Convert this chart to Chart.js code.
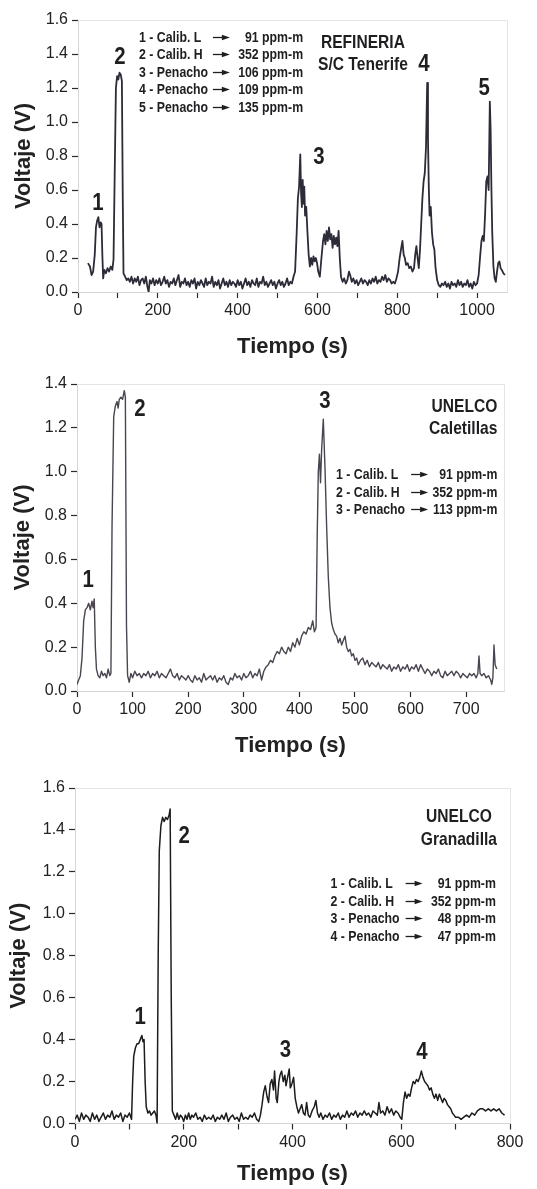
<!DOCTYPE html>
<html>
<head>
<meta charset="utf-8">
<script src="https://cdn.jsdelivr.net/npm/chart.js@4.4.1/dist/chart.umd.min.js"></script>
<style>
html,body{margin:0;padding:0;background:#fff;}
body{width:537px;height:1189px;position:relative;overflow:hidden;}
.box{position:absolute;left:0;width:537px;}
canvas{display:block;}
</style>
</head>
<body>
<div class="box" style="top:0;height:365px"><canvas id="c1" width="537" height="365"></canvas></div>
<div class="box" style="top:365px;height:400px"><canvas id="c2" width="537" height="400"></canvas></div>
<div class="box" style="top:765px;height:424px"><canvas id="c3" width="537" height="424"></canvas></div>
<script>
// ---------------- DATA ----------------
// Chart 1: REFINERIA S/C Tenerife
const c1Time = [25,30,34,38,42,45,48,51,54,57,59,61,63,66,70,74,78,82,86,89,92,95,98,101,104,107,110,112,114,118,122,126,130,134,138,142,146,150,154,158,162,166,170,174,177,180,184,188,192,196,200,204,208,212,216,220,224,228,232,236,240,244,248,252,256,260,264,268,272,276,280,284,288,292,296,300,304,308,312,316,320,324,328,332,336,340,344,348,352,356,360,364,368,372,376,380,384,388,392,396,400,404,408,412,416,420,424,428,432,436,440,444,448,452,456,460,464,468,472,476,480,484,488,492,496,500,504,508,512,516,520,524,528,532,536,540,544,548,551,554,557,559,561,563,565,567,569,572,575,578,581,584,587,590,593,596,599,602,606,610,614,617,620,623,626,629,632,635,638,641,644,647,650,653,656,659,663,667,671,675,679,682,686,690,694,698,702,706,710,714,718,722,726,730,734,738,742,746,750,754,758,762,766,770,774,778,782,786,790,794,798,802,806,810,813,816,819,822,826,830,834,838,842,845,848,851,854,857,860,863,866,869,872,875,877,879,881,884,887,890,893,896,900,904,908,912,916,920,924,928,932,936,940,944,948,952,956,960,964,968,972,976,980,984,988,992,996,1000,1004,1008,1011,1014,1017,1020,1023,1026,1029,1032,1034,1036,1038,1041,1044,1047,1050,1053,1056,1059,1062,1066,1070];
const c1Volt = [0.17,0.15,0.10,0.12,0.22,0.38,0.42,0.44,0.38,0.41,0.40,0.22,0.08,0.13,0.11,0.14,0.12,0.15,0.13,0.19,0.70,1.20,1.27,1.25,1.29,1.28,1.24,0.60,0.11,0.09,0.07,0.08,0.06,0.09,0.05,0.08,0.06,0.09,0.04,0.07,0.08,0.05,0.09,0.03,0.00,0.07,0.05,0.08,0.04,0.07,0.05,0.08,0.04,0.06,0.09,0.05,0.07,0.03,0.06,0.05,0.08,0.04,0.07,0.10,0.03,0.06,0.05,0.08,0.04,0.06,0.03,0.07,0.05,0.08,0.02,0.06,0.04,0.07,0.05,0.03,0.08,0.04,0.06,0.05,0.09,0.03,0.06,0.04,0.07,0.02,0.05,0.08,0.04,0.06,0.03,0.07,0.04,0.06,0.05,0.03,0.07,0.04,0.06,0.02,0.05,0.08,0.04,0.06,0.03,0.07,0.05,0.04,0.08,0.03,0.06,0.05,0.09,0.04,0.06,0.03,0.05,0.07,0.04,0.06,0.02,0.05,0.07,0.04,0.06,0.03,0.05,0.08,0.04,0.06,0.05,0.09,0.12,0.35,0.55,0.62,0.81,0.58,0.50,0.66,0.52,0.62,0.45,0.50,0.35,0.22,0.15,0.20,0.16,0.21,0.18,0.20,0.17,0.12,0.09,0.20,0.30,0.34,0.28,0.36,0.30,0.38,0.31,0.34,0.26,0.33,0.28,0.32,0.27,0.36,0.20,0.09,0.06,0.08,0.05,0.07,0.12,0.10,0.06,0.08,0.05,0.07,0.04,0.06,0.08,0.05,0.07,0.06,0.04,0.07,0.05,0.08,0.06,0.09,0.05,0.07,0.06,0.09,0.07,0.10,0.06,0.08,0.07,0.05,0.06,0.05,0.08,0.12,0.20,0.26,0.30,0.22,0.20,0.16,0.17,0.14,0.15,0.12,0.14,0.22,0.27,0.20,0.14,0.25,0.40,0.55,0.65,0.70,0.85,1.23,0.90,0.62,0.45,0.50,0.35,0.28,0.25,0.14,0.07,0.04,0.03,0.05,0.04,0.06,0.03,0.05,0.02,0.06,0.04,0.05,0.03,0.07,0.04,0.06,0.03,0.05,0.04,0.07,0.03,0.05,0.02,0.06,0.04,0.05,0.10,0.22,0.30,0.33,0.30,0.45,0.65,0.68,0.60,1.12,0.95,0.60,0.35,0.15,0.08,0.06,0.12,0.17,0.18,0.14,0.13,0.11,0.10];
const c1Peaks = ['1','2','3','4','5'];
const c1PeakTime = [50,105,604,867,1018];
const c1PeakVolt = [0.52,1.38,0.79,1.34,1.20];
const c1Site = ['REFINERIA','S/C Tenerife'];
const c1LegendLabels = ['1 - Calib. L','2 - Calib. H','3 - Penacho','4 - Penacho','5 - Penacho'];
const c1LegendValues = ['91 ppm-m','352 ppm-m','106 ppm-m','109 ppm-m','135 ppm-m'];

// Chart 2: UNELCO Caletillas
const c2Time = [0,3,6,9,12,15,18,21,24,27,29,31,33,35,38,41,44,47,50,53,56,59,61,63,66,69,72,74,76,79,82,85,87,89,91,94,97,100,104,108,112,116,120,124,128,132,136,140,144,148,152,156,160,164,168,172,176,180,184,188,192,196,200,204,208,212,216,220,224,228,232,236,240,244,248,252,256,260,264,268,272,276,280,284,288,292,296,300,304,308,312,316,320,324,328,332,336,340,344,348,352,356,360,364,368,372,376,380,384,388,392,396,400,404,408,412,416,420,424,427,430,432,434,436,438,440,443,446,449,452,455,458,461,464,467,470,473,476,479,482,485,488,491,494,497,500,503,506,510,514,518,522,526,530,534,538,542,546,550,554,558,562,566,570,574,578,582,586,590,594,598,602,606,610,614,618,622,626,630,634,638,642,646,650,654,658,662,666,670,674,678,682,686,690,694,698,702,706,710,714,718,721,723,725,728,732,736,740,744,746,748,750,752,755];
const c2Volt = [0.03,0.05,0.07,0.15,0.32,0.37,0.38,0.40,0.37,0.41,0.38,0.42,0.20,0.10,0.07,0.06,0.09,0.07,0.08,0.06,0.10,0.07,0.08,0.75,1.25,1.30,1.32,1.29,1.33,1.34,1.33,1.37,1.34,0.30,0.07,0.04,0.08,0.06,0.09,0.07,0.08,0.06,0.08,0.07,0.09,0.06,0.08,0.07,0.09,0.06,0.08,0.07,0.06,0.08,0.10,0.07,0.06,0.08,0.05,0.07,0.06,0.05,0.07,0.05,0.04,0.07,0.05,0.06,0.04,0.08,0.05,0.06,0.07,0.05,0.07,0.04,0.06,0.05,0.07,0.04,0.03,0.06,0.05,0.08,0.06,0.07,0.05,0.08,0.06,0.07,0.09,0.06,0.08,0.07,0.10,0.05,0.09,0.11,0.12,0.14,0.13,0.16,0.18,0.17,0.20,0.18,0.17,0.20,0.18,0.22,0.20,0.24,0.21,0.25,0.27,0.26,0.29,0.28,0.32,0.27,0.29,0.70,1.00,1.08,0.95,1.10,1.24,1.02,0.75,0.52,0.38,0.31,0.28,0.26,0.25,0.22,0.24,0.21,0.23,0.25,0.20,0.18,0.19,0.16,0.17,0.14,0.15,0.12,0.14,0.15,0.12,0.14,0.11,0.13,0.12,0.11,0.13,0.10,0.12,0.11,0.10,0.12,0.09,0.11,0.10,0.12,0.09,0.11,0.10,0.12,0.09,0.11,0.10,0.12,0.09,0.12,0.10,0.08,0.10,0.09,0.07,0.09,0.08,0.10,0.07,0.06,0.09,0.07,0.08,0.09,0.07,0.09,0.08,0.06,0.08,0.07,0.06,0.08,0.07,0.08,0.06,0.08,0.16,0.08,0.07,0.08,0.06,0.07,0.05,0.03,0.06,0.21,0.12,0.10];
const c2Peaks = ['1','2','3'];
const c2PeakTime = [20,113,446];
const c2PeakVolt = [0.506,1.286,1.322];
const c2Site = ['UNELCO','Caletillas'];
const c2LegendLabels = ['1 - Calib. L','2 - Calib. H','3 - Penacho'];
const c2LegendValues = ['91 ppm-m','352 ppm-m','113 ppm-m'];

// Chart 3: UNELCO Granadilla
const c3Time = [0,4,8,12,16,20,24,28,32,36,40,44,48,52,56,60,64,68,72,76,80,84,88,92,96,100,104,106,108,111,114,117,120,123,125,127,129,131,134,137,140,143,146,149,151,153,155,158,161,164,167,170,173,175,177,179,182,185,188,191,194,197,200,203,206,209,212,215,218,222,226,230,234,238,242,246,250,254,258,262,266,270,274,278,282,286,290,294,298,302,306,310,314,318,322,326,330,334,338,341,344,347,350,353,356,359,362,365,367,370,372,375,377,380,383,386,388,391,394,396,399,402,405,408,411,414,417,420,423,426,429,432,436,440,443,446,449,452,456,460,464,468,472,476,480,484,488,492,496,500,504,508,512,516,520,524,528,532,536,540,544,548,552,556,559,562,566,570,574,578,582,586,590,594,598,601,604,607,610,613,616,619,622,625,628,631,634,637,640,643,646,649,652,655,658,661,664,667,670,673,676,679,682,685,688,691,694,697,700,705,710,715,720,725,730,735,740,745,750,755,760,765,770,775,780,785,790];
const c3Volt = [0.02,0.04,0.01,0.05,0.02,0.04,0.03,0.01,0.05,0.02,0.04,0.01,0.03,0.05,0.02,0.04,0.03,0.06,0.02,0.04,0.03,0.05,0.01,0.04,0.03,0.05,0.02,0.20,0.32,0.36,0.38,0.38,0.40,0.42,0.39,0.40,0.20,0.08,0.05,0.06,0.04,0.05,0.06,0.04,0.00,0.80,1.30,1.42,1.46,1.44,1.46,1.45,1.47,1.50,0.60,0.06,0.04,0.02,0.05,0.02,0.04,0.03,0.01,0.04,0.02,0.05,0.02,0.04,0.03,0.05,0.02,0.03,0.01,0.04,0.02,0.03,0.02,0.04,0.01,0.03,0.02,0.04,0.02,0.05,0.01,0.03,0.04,0.02,0.03,0.01,0.05,0.02,0.03,0.02,0.04,0.03,0.05,0.02,0.01,0.04,0.09,0.15,0.18,0.13,0.10,0.19,0.21,0.16,0.25,0.12,0.10,0.20,0.23,0.25,0.20,0.23,0.18,0.22,0.26,0.17,0.19,0.22,0.12,0.08,0.05,0.07,0.09,0.05,0.04,0.10,0.04,0.03,0.06,0.08,0.11,0.05,0.03,0.05,0.02,0.04,0.03,0.05,0.02,0.04,0.03,0.05,0.02,0.04,0.03,0.06,0.03,0.05,0.04,0.06,0.03,0.05,0.04,0.06,0.04,0.05,0.03,0.06,0.05,0.04,0.10,0.05,0.06,0.04,0.08,0.05,0.07,0.04,0.06,0.05,0.03,0.02,0.10,0.15,0.12,0.14,0.13,0.17,0.20,0.19,0.21,0.20,0.22,0.25,0.22,0.20,0.19,0.18,0.16,0.17,0.14,0.12,0.14,0.11,0.14,0.12,0.10,0.12,0.11,0.09,0.08,0.07,0.05,0.04,0.03,0.03,0.02,0.03,0.04,0.03,0.05,0.04,0.06,0.07,0.07,0.06,0.07,0.06,0.07,0.06,0.07,0.05,0.04];
const c3Peaks = ['1','2','3','4'];
const c3PeakTime = [120,201,387,638];
const c3PeakVolt = [0.505,1.371,0.348,0.338];
const c3Site = ['UNELCO','Granadilla'];
const c3LegendLabels = ['1 - Calib. L','2 - Calib. H','3 - Penacho','4 - Penacho'];
const c3LegendValues = ['91 ppm-m','352 ppm-m','48 ppm-m','47 ppm-m'];

// ---------------- RENDERING ----------------
const SANS = "'Liberation Sans',Arial,sans-serif";
const INK = '#1f1f22';

// draw horizontally condensed text (emulates a narrow typeface)
function narrowText(ctx, s, x, y, align, sx) {
  ctx.save();
  ctx.translate(x, y);
  ctx.scale(sx, 1);
  ctx.textAlign = align;
  ctx.fillText(s, 0, 0);
  ctx.restore();
}

function makeAnnot(a) {
  return {
    id: 'annot',
    afterDatasetsDraw(chart) {
      const {ctx, chartArea: ar} = chart;
      const x = chart.scales.x, y = chart.scales.y;
      ctx.save();
      // light frame on top and right
      ctx.strokeStyle = '#e4e4e4';
      ctx.lineWidth = 1;
      ctx.beginPath();
      ctx.moveTo(ar.left, Math.round(ar.top) + 0.5);
      ctx.lineTo(Math.round(ar.right) + 0.5, Math.round(ar.top) + 0.5);
      ctx.lineTo(Math.round(ar.right) + 0.5, ar.bottom);
      ctx.stroke();
      ctx.fillStyle = INK;
      ctx.strokeStyle = INK;
      ctx.textBaseline = 'middle';
      // peak numbers
      ctx.font = 'bold 24px ' + SANS;
      a.peaks.forEach((s, i) => narrowText(ctx, s, x.getPixelForValue(a.peakT[i]), y.getPixelForValue(a.peakV[i]), 'center', 0.85));
      // site name
      ctx.font = 'bold 19px ' + SANS;
      a.site.forEach((s, i) => narrowText(ctx, s, x.getPixelForValue(a.siteT), y.getPixelForValue(a.siteV[i]), a.siteAlign, 0.82));
      // legend rows
      ctx.font = 'bold 15px ' + SANS;
      a.labels.forEach((s, i) => {
        const py = Math.round(y.getPixelForValue(a.legV[i])) + 0.5;
        narrowText(ctx, s, x.getPixelForValue(a.legLeft), py, 'left', 0.82);
        const ax = x.getPixelForValue(a.legArrow);
        ctx.lineWidth = 1.3;
        ctx.beginPath(); ctx.moveTo(ax, py); ctx.lineTo(ax + 11, py); ctx.stroke();
        ctx.beginPath(); ctx.moveTo(ax + 17, py); ctx.lineTo(ax + 9, py - 2.8); ctx.lineTo(ax + 9, py + 2.8); ctx.closePath(); ctx.fill();
        narrowText(ctx, a.values[i], x.getPixelForValue(a.legRight), py, 'right', 0.82);
      });
      ctx.restore();
    }
  };
}

function build(id, cfg) {
  const data = cfg.t.map((t, i) => ({x: t, y: cfg.v[i]}));
  new Chart(document.getElementById(id), {
    type: 'line',
    data: {datasets: [{data, borderColor: cfg.color, borderWidth: cfg.lw, pointRadius: 0, tension: 0, fill: false, borderJoinStyle: 'round'}]},
    options: {
      responsive: false,
      animation: false,
      events: [],
      layout: {padding: {top: cfg.padTop, right: cfg.padRight, bottom: 0, left: 0}},
      plugins: {legend: {display: false}, tooltip: {enabled: false}},
      scales: {
        x: {
          type: 'linear', min: 0, max: cfg.xMax,
          afterFit: s => { s.height = cfg.xH; },
          grid: {drawOnChartArea: false, drawTicks: true, tickLength: 6, tickColor: '#2a2a2a', tickWidth: 1.2},
          border: {display: true, color: '#d6d6d6', width: 1},
          ticks: {
            stepSize: 100, autoSkip: false, includeBounds: false, maxRotation: 0, padding: 3,
            color: '#222', font: {family: SANS, size: 16},
            callback: v => (v % cfg.labelEvery === 0 ? String(v) : '')
          },
          title: {display: true, text: 'Tiempo (s)', color: '#222', font: {family: SANS, size: 22, weight: 'bold'}, padding: {top: 0, bottom: cfg.xTitlePad}}
        },
        y: {
          min: 0, max: cfg.yMax,
          afterFit: s => { s.width = cfg.yW; },
          grid: {drawOnChartArea: false, drawTicks: true, tickLength: 6, tickColor: '#2a2a2a', tickWidth: 1.2},
          border: {display: true, color: '#d6d6d6', width: 1},
          ticks: {stepSize: 0.2, padding: 4, color: '#222', font: {family: SANS, size: 16}, callback: v => Number(v).toFixed(1)},
          title: {display: true, text: 'Voltaje (V)', color: '#222', font: {family: SANS, size: 22, weight: 'bold'}, padding: {top: cfg.yTitlePad, bottom: 0}}
        }
      }
    },
    plugins: [makeAnnot(cfg.annot)]
  });
}

build('c1', {
  t: c1Time, v: c1Volt, color: '#2c2b38', lw: 1.8,
  xMax: 1075, yMax: 1.6, labelEvery: 200,
  padTop: 20, padRight: 30, xH: 73, yW: 78, xTitlePad: 5, yTitlePad: 11,
  annot: {
    peaks: c1Peaks, peakT: c1PeakTime, peakV: c1PeakVolt,
    site: c1Site, siteT: 714, siteV: [1.465, 1.335], siteAlign: 'center',
    labels: c1LegendLabels, values: c1LegendValues,
    legLeft: 153, legArrow: 338, legRight: 564, legV: [1.50, 1.40, 1.294, 1.194, 1.088]
  }
});

build('c2', {
  t: c2Time, v: c2Volt, color: '#4a4550', lw: 1.4,
  xMax: 768, yMax: 1.4, labelEvery: 100,
  padTop: 19, padRight: 33, xH: 74, yW: 77, xTitlePad: 6, yTitlePad: 10,
  annot: {
    peaks: c2Peaks, peakT: c2PeakTime, peakV: c2PeakVolt,
    site: c2Site, siteT: 756, siteV: [1.295, 1.195], siteAlign: 'right',
    labels: c2LegendLabels, values: c2LegendValues,
    legLeft: 466, legArrow: 601, legRight: 756, legV: [0.99, 0.907, 0.83]
  }
});

build('c3', {
  t: c3Time, v: c3Volt, color: '#1c1c1c', lw: 1.5,
  xMax: 800, yMax: 1.6, labelEvery: 200,
  padTop: 23, padRight: 27, xH: 65.5, yW: 75, xTitlePad: 2, yTitlePad: 6,
  annot: {
    peaks: c3Peaks, peakT: c3PeakTime, peakV: c3PeakVolt,
    site: c3Site, siteT: 706, siteV: [1.462, 1.352], siteAlign: 'center',
    labels: c3LegendLabels, values: c3LegendValues,
    legLeft: 470, legArrow: 608, legRight: 774, legV: [1.148, 1.062, 0.981, 0.895]
  }
});
</script>
</body>
</html>
